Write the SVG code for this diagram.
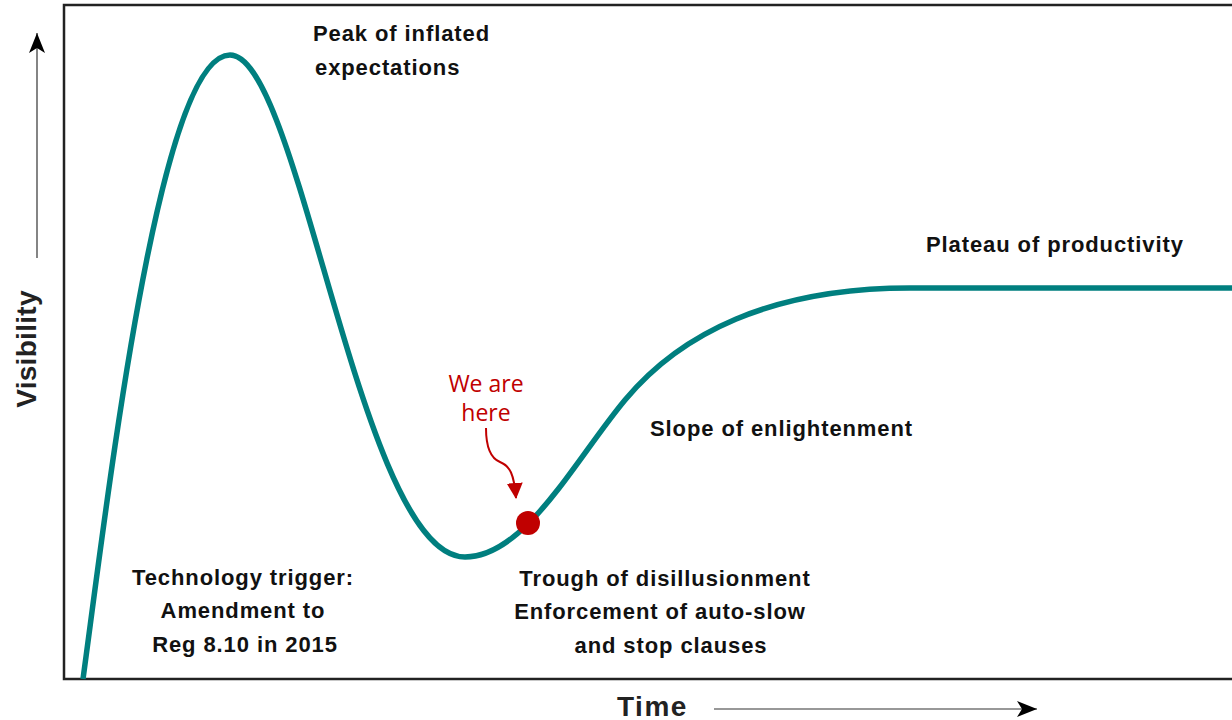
<svg xmlns="http://www.w3.org/2000/svg" width="1232" height="720" viewBox="0 0 1232 720">
<style>
.lbl{font-family:"Liberation Sans",Arial,sans-serif;font-weight:bold;font-size:22px;letter-spacing:0.9px;fill:#111}
.ax{font-family:"Liberation Sans",Arial,sans-serif;font-weight:bold;font-size:28px;fill:#222}
.red{font-family:"Open Sans","Noto Sans",sans-serif;font-size:23px;fill:#c00000}
</style>
<defs>
<marker id="ah" viewBox="0 0 20 16" refX="20" refY="8" markerWidth="20" markerHeight="16" markerUnits="userSpaceOnUse" orient="auto">
<path d="M0,0 L20,8 L0,16 L5,8 Z" fill="#000"/>
</marker>
<marker id="rah" viewBox="0 0 16 16" refX="15" refY="8" markerWidth="16" markerHeight="16" markerUnits="userSpaceOnUse" orient="auto">
<path d="M0,0 L16,8 L0,16 Z" fill="#c00000"/>
</marker>
</defs>
<rect width="1232" height="720" fill="#fff"/>
<g id="frame">
<rect x="64" y="5" width="1200" height="674" fill="none" stroke="#222" stroke-width="2.5"/>
</g>
<g id="axes">
<line x1="37" y1="258" x2="37" y2="33" stroke="#333" stroke-width="1.2" marker-end="url(#ah)"/>
<text class="ax" transform="translate(36,349) rotate(-90)" text-anchor="middle" style="letter-spacing:0.3px">Visibility</text>
<line x1="714" y1="709" x2="1037" y2="709" stroke="#333" stroke-width="1.2" marker-end="url(#ah)"/>
<text class="ax" x="617" y="716" style="letter-spacing:1.5px">Time</text>
</g>
<g id="connectors">
<path id="curve" d="M83,679 C110,480 160,55 230,55 C300,55 360,557 465,557 C525,557 575,460 625,400 C680,334 770,288 910,288 L1240,288" fill="none" stroke="#007f7f" stroke-width="5.5"/>
<path id="pointer" d="M486,428 C486,445 490,458 500,462 C510,466 514,474 516,498" fill="none" stroke="#c00000" stroke-width="2" marker-end="url(#rah)"/>
</g>
<g id="dot"><circle cx="528" cy="523" r="12" fill="#c00000"/></g>
<g id="here"><text class="red" text-anchor="middle"><tspan x="486" y="392">We are</tspan><tspan x="486" y="421">here</tspan></text></g>
<g id="peak"><text class="lbl"><tspan x="313" y="41">Peak of inflated</tspan><tspan x="315" y="75">expectations</tspan></text></g>
<g id="plateau"><text class="lbl" x="926" y="252">Plateau of productivity</text></g>
<g id="slope"><text class="lbl" x="650" y="436">Slope of enlightenment</text></g>
<g id="trigger"><text class="lbl" text-anchor="middle"><tspan x="243" y="585">Technology trigger:</tspan><tspan x="243" y="618">Amendment to</tspan><tspan x="245" y="652">Reg 8.10 in 2015</tspan></text></g>
<g id="trough"><text class="lbl" text-anchor="middle"><tspan x="665" y="586">Trough of disillusionment</tspan><tspan x="660" y="619">Enforcement of auto-slow</tspan><tspan x="671" y="653">and stop clauses</tspan></text></g>
</svg>
